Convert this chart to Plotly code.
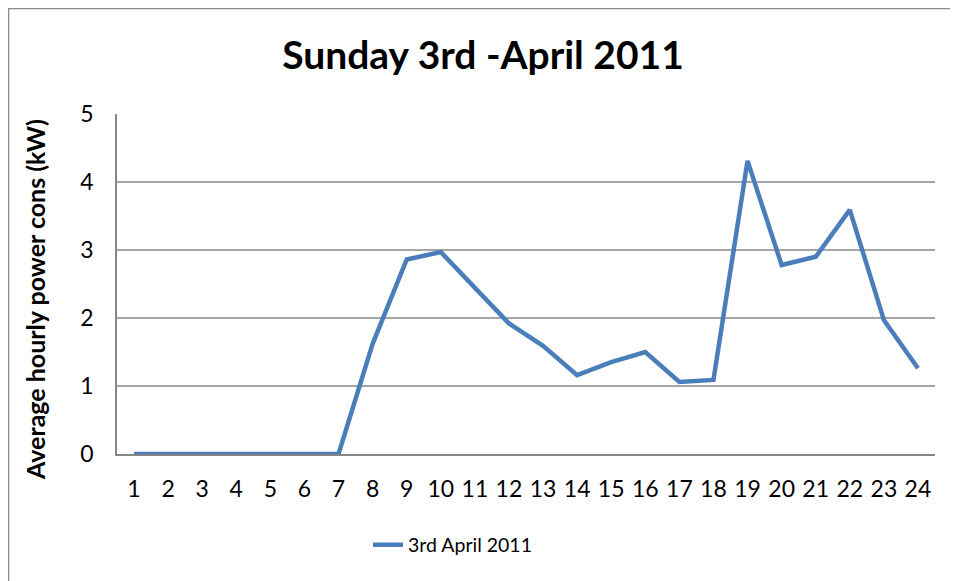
import plotly.graph_objects as go

hours = [str(h) for h in range(1, 25)]
power_kw = [0, 0, 0, 0, 0, 0, 0, 1.62, 2.86, 2.97, 2.45, 1.92, 1.59, 1.16,
            1.35, 1.50, 1.06, 1.09, 4.31, 2.78, 2.90, 3.59, 1.97, 1.26]
series_name = "3rd April 2011"
y_ticks = [0, 1, 2, 3, 4, 5]

FONT = "Lato"
OFF = 8  # page body margin
W, H = 958 - OFF, 581 - OFF
L, R, T, B = 117 - OFF, 958 - 935, 114 - OFF, 581 - 454
pw, ph = W - L - R, H - T - B

def px_x(x):
    return (x - OFF - L) / pw

def px_y(y):
    return (H - B - (y - OFF)) / ph

fig = go.Figure()
fig.add_trace(go.Scatter(
    x=hours, y=power_kw, mode="lines", name=series_name,
    line=dict(color="#4a7ebb", width=4.5),
))

fig.update_layout(
    width=W, height=H,
    margin=dict(l=L, r=R, t=T, b=B),
    paper_bgcolor="white", plot_bgcolor="white",
    font=dict(family=FONT, color="#000000", size=20),
    title=dict(text="<b>Sunday 3rd -April 2011</b>", x=px_x(483), xref="paper",
               xanchor="center", y=1 - (55 - OFF) / H, yanchor="middle",
               font=dict(family=FONT, size=39, color="#000000")),
    showlegend=True,
    legend=dict(orientation="h", x=px_x(368), xanchor="left", y=px_y(545),
                yanchor="middle", font=dict(family=FONT, size=19.5),
                bgcolor="rgba(0,0,0,0)"),
)
fig.update_xaxes(
    type="category", showgrid=False, showline=True, linecolor="#868686",
    linewidth=1.5, ticks="", ticklabelstandoff=14,
    tickfont=dict(family=FONT, size=23), range=[-0.5, 23.5],
)
fig.update_yaxes(
    range=[0, 5], tickvals=y_ticks, showgrid=True, gridcolor="#a6a6a6",
    gridwidth=1.5, showline=True, linecolor="#868686", linewidth=1.5,
    ticks="", ticklabelstandoff=17, zeroline=False,
    tickfont=dict(family=FONT, size=23),
)
fig.add_annotation(
    text="<b>Average hourly power cons (kW)</b>", textangle=-90,
    xref="paper", yref="paper", x=px_x(35), y=px_y(300),
    xanchor="center", yanchor="middle", showarrow=False,
    font=dict(family=FONT, size=25, color="#000000"),
)
fig.add_shape(
    type="rect", xref="paper", yref="paper",
    x0=px_x(OFF + 0.5), x1=px_x(955), y0=px_y(600), y1=px_y(OFF + 0.5),
    line=dict(color="#8c8c8c", width=1.5), fillcolor="rgba(0,0,0,0)", layer="below",
)
fig.write_html("out.html")
